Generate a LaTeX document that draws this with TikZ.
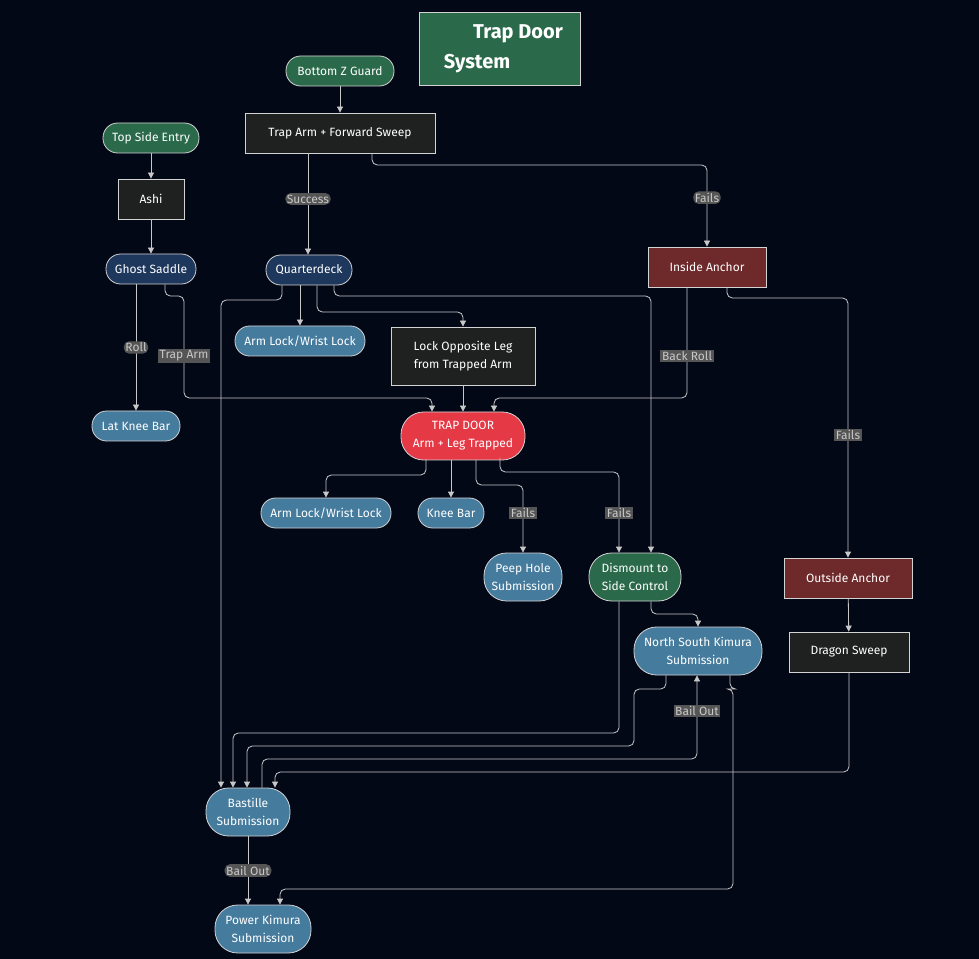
\documentclass[tikz,border=0pt]{standalone}
\usepackage{fontspec}
\setmainfont{Fira Sans}
\usetikzlibrary{arrows.meta}
\definecolor{bg}{RGB}{3,8,23}
\definecolor{cgreen}{RGB}{42,106,74}
\definecolor{cdark}{RGB}{31,32,32}
\definecolor{cnavy}{RGB}{30,55,92}
\definecolor{cblue}{RGB}{69,123,157}
\definecolor{cred}{RGB}{230,57,70}
\definecolor{cmaroon}{RGB}{110,42,42}
\definecolor{edge}{RGB}{200,200,200}
\definecolor{lbl}{RGB}{85,85,85}
\begin{document}
\begin{tikzpicture}[x=0.75pt,y=-0.75pt,
  base/.style={draw=edge!80, line width=0.6pt, text=white, align=center, font=\fontsize{9}{13.5}\selectfont, inner sep=0pt},
  pill/.style={base, rounded corners=11pt, minimum height=22.5pt},
  pill2/.style={base, rounded corners=17pt, minimum height=36pt},
  box/.style={base, minimum height=30pt},
  el/.style={fill=lbl, text=edge, font=\fontsize{9}{11}\selectfont, inner sep=1.2pt},
  ar/.style={draw=edge, line width=0.6pt, rounded corners=4pt, -{Triangle[length=4.5pt,width=4.5pt]}}]
\fill[bg] (0,0) rectangle (979,959);
% title
\node[base, fill=cgreen, minimum width=120.75pt, minimum height=54.75pt] (title) at (499.5,48.5) {};
\node[text=white, font=\bfseries\fontsize{15}{18}\selectfont] (t1) at (518,34) {Trap Door};
\node[text=white, font=\bfseries\fontsize{15}{18}\selectfont] (t2) at (477,64) {System};
% nodes
\node[pill, fill=cgreen, minimum width=81pt] (bzg) at (340,71) {Bottom Z Guard};
\node[box, fill=cdark, minimum width=142.5pt] (tafs) at (340,133) {Trap Arm + Forward Sweep};
\node[pill, fill=cgreen, minimum width=72pt] (tse) at (151,138) {Top Side Entry};
\node[box, fill=cdark, minimum width=49.5pt] (ashi) at (151,199) {Ashi};
\node[pill, fill=cnavy, minimum width=67.5pt] (gs) at (151,269) {Ghost Saddle};
\node[pill, fill=cnavy, minimum width=64.5pt] (qd) at (309,270) {Quarterdeck};
\node[box, fill=cmaroon, minimum width=88.5pt] (ia) at (707,267) {Inside Anchor};
\node[pill, fill=cblue, minimum width=97.5pt] (al1) at (300,341) {Arm Lock/Wrist Lock};
\node[box, fill=cdark, minimum width=108pt, minimum height=43.5pt] (lol) at (463,356) {Lock Opposite Leg\\from Trapped Arm};
\node[pill, fill=cblue, minimum width=66pt] (lkb) at (136,426) {Lat Knee Bar};
\node[pill2, fill=cred, minimum width=93pt] (td) at (463,436) {TRAP DOOR\\Arm + Leg Trapped};
\node[pill, fill=cblue, minimum width=97.5pt] (al2) at (326,513) {Arm Lock/Wrist Lock};
\node[pill, fill=cblue, minimum width=49.5pt] (kb) at (451,513) {Knee Bar};
\node[pill2, fill=cblue, minimum width=58.5pt] (ph) at (523,577) {Peep Hole\\Submission};
\node[pill2, fill=cgreen, minimum width=69pt] (dsc) at (635,577) {Dismount to\\Side Control};
\node[box, fill=cmaroon, minimum width=96pt] (oa) at (848,578) {Outside Anchor};
\node[pill2, fill=cblue, minimum width=96pt] (nsk) at (698,651) {North South Kimura\\Submission};
\node[box, fill=cdark, minimum width=90pt] (ds) at (849,652) {Dragon Sweep};
\node[pill2, fill=cblue, minimum width=63pt] (bs) at (248,812) {Bastille\\Submission};
\node[pill2, fill=cblue, minimum width=72pt] (pk) at (263,929) {Power Kimura\\Submission};
% edges
\draw[ar] (bzg) -- (tafs);
\draw[ar] (tafs.south -| 308,0) -- (qd.north -| 308,0) node[el, pos=0.45] {Success};
\draw[ar] (tafs.south -| 372,0) -- (372,165) -- (707,165) -- (ia.north) node[el, pos=0.4] {Fails};
\draw[ar] (tse) -- (ashi);
\draw[ar] (ashi) -- (gs);
\draw[ar] (gs.south -| 136,0) -- (lkb.north -| 136,0) node[el, midway] {Roll};
\draw[ar] (gs.south -| 165,0) -- (165,296) -- (184,296) -- (184,398) -- (432,398) -- (td.north -| 432,0);
\node[el] (lta) at (184,356) {Trap Arm};
\draw[ar] (qd.south -| 300,0) -- (al1);
\draw[ar] (qd.south -| 317,0) -- (317,312) -- (463,312) -- (lol.north);
\draw[ar] (qd.south -| 282,0) -- (282,300) -- (221,300) -- (bs.north -| 221,0);
\draw[ar] (qd.south -| 334,0) -- (334,296) -- (651,296) -- (dsc.north -| 651,0);
\draw[ar] (ia.south -| 687,0) -- (687,398) -- (494,398) -- (td.north -| 494,0);
\node[el] (lbr) at (687,356) {Back Roll};
\draw[ar] (ia.south -| 727,0) -- (727,298) -- (848,298) -- (oa.north);
\node[el] (lf2) at (848,435) {Fails};
\draw[ar] (lol) -- (td);
\draw[ar] (426,459) -- (426,475) -- (326,475) -- (al2.north);
\draw[ar] (kb.north |- td.south) -- (kb.north);
\draw[ar] (476,460) -- (476,485) -- (523,485) -- (ph.north);
\node[el] (lf3) at (523,513) {Fails};
\draw[ar] (500,458) -- (500,472) -- (619,472) -- (dsc.north -| 619,0);
\node[el] (lf4) at (619,513) {Fails};
\draw[ar] (dsc.south -| 651,0) -- (651,614) -- (698,614) -- (nsk.north);
\draw[ar] (dsc.south -| 619,0) -- (619,733) -- (233,733) -- (bs.north -| 233,0);
\draw[ar] (nsk.south -| 666,0) -- (666,689) -- (634,689) -- (634,746) -- (247,746) -- (bs.north -| 247,0);
\draw[ar] (bs.north -| 262,0) -- (262,759) -- (697,759) -- (nsk.south -| 697,0);
\node[el] (lbo1) at (697,711) {Bail Out};
\draw[ar] (oa) -- (ds);
\draw[ar] (ds.south) -- (849,772) -- (275,772) -- (bs.north -| 275,0);
\draw[ar] (nsk.south -| 730,0) -- (730,689) -- (733,689) -- (733,889) -- (280,889) -- (pk.north -| 280,0);
\draw[ar] (bs.south) -- (pk.north -| 248,0) node[el, midway] {Bail Out};
\end{tikzpicture}
\end{document}
